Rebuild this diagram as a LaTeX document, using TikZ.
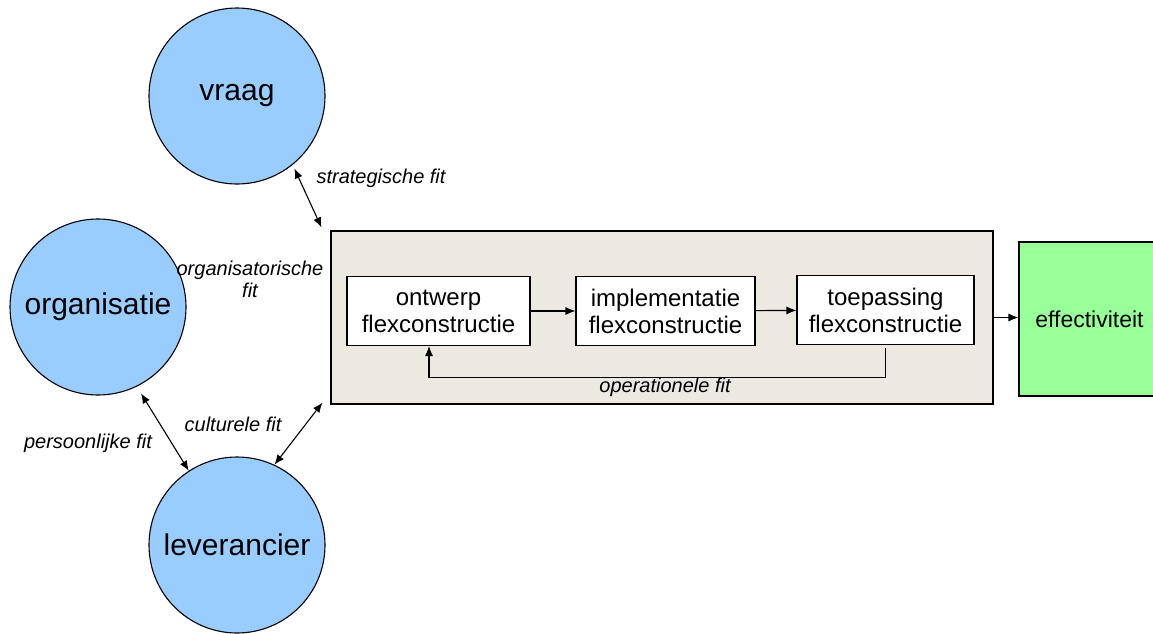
\documentclass[tikz,border=0pt]{standalone}
\usepackage{fontspec}
\setmainfont{Liberation Sans}
\usetikzlibrary{arrows.meta}
\tikzset{>={Latex[width=4pt,length=5pt]}}
\definecolor{lightblue}{HTML}{99CCFF}
\definecolor{beige}{HTML}{ECE9E0}
\definecolor{lightgreen}{HTML}{99FF99}
\tikzset{
  actor/.style={circle, draw, fill=lightblue, minimum size=88pt, inner sep=0pt,
    font=\fontsize{15}{18}\selectfont},
  stage/.style={rectangle, draw, fill=white, minimum height=34.5pt, align=center,
    inner sep=0pt, font=\fontsize{12}{13.5}\selectfont},
  fitlabel/.style={font=\fontsize{10}{11}\selectfont\itshape, inner sep=0pt, align=center}
}

\begin{document}
\begin{tikzpicture}[x=0.5pt, y=-0.5pt, line width=0.55pt]
  \useasboundingbox (0,0) rectangle (1153,633);

  \node[actor] (vraag) at (237,96) {vraag};
  \node[actor] (organisatie) at (98,307) {organisatie};
  \node[actor] (leverancier) at (237,545) {leverancier};

  \node[draw, fill=beige, minimum width=331pt, minimum height=86.5pt, inner sep=0pt]
    (frame) at (662,317.5) {};

  \node[stage, minimum width=91.5pt] (ontwerp) at (438.5,311)
    {ontwerp\\flexconstructie};
  \node[stage, minimum width=89.5pt] (implementatie) at (665.5,311)
    {implementatie\\flexconstructie};
  \node[stage, minimum width=88.5pt] (toepassing) at (885.5,310)
    {toepassing\\flexconstructie};

  \node[draw, fill=lightgreen, minimum width=70.5pt, minimum height=77pt, inner sep=0pt,
    font=\fontsize{11.5}{13}\selectfont] (effectiviteit) at (1089.5,319) {effectiviteit};

  \draw[->] (ontwerp) -- (implementatie);
  \draw[->] (implementatie) -- (toepassing);
  \draw[->] (frame.east) -- (frame.east -| effectiviteit.west);
  \draw[->] ([yshift=-1.5pt]toepassing.south) -- ++(0,29) -| ([xshift=-4.75pt]ontwerp.south);

  \node[fitlabel] (operationeel) at (665,387) {operationele fit};

  % fits
  \draw[<->, shorten <=2pt] (vraag.-51) -- ([shift={(-9,-3)}]frame.north west);
  \draw[<->, shorten <=4pt] (organisatie.-64) -- (leverancier.123);
  \draw[<->] (leverancier.65) -- ([shift={(-8,-2)}]frame.south west);

  \node[fitlabel, anchor=west] (strategisch) at (316,178) {strategische fit};
  \node[fitlabel] (organisatorisch) at (250,279) {organisatorische\\fit};
  \node[fitlabel] (cultureel) at (233,424) {culturele fit};
  \node[fitlabel] (persoonlijk) at (88,443) {persoonlijke fit};
\end{tikzpicture}
\end{document}
